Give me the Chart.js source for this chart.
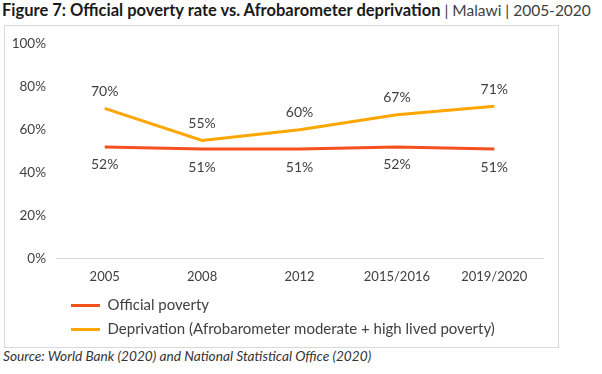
<!DOCTYPE html>
<html><head><meta charset="utf-8">
<script src="https://cdn.jsdelivr.net/npm/chart.js@4"></script>
<style>
html,body{margin:0;padding:0;background:#fff;width:602px;height:374px;overflow:hidden;font-family:Lato,sans-serif;}
#title{position:absolute;left:2px;top:0px;font-size:15.5px;color:#222;white-space:nowrap;}
#title b{font-weight:700;color:#1a1a1a;font-size:16.5px;}
#title span{color:#404040;}
#box{position:absolute;left:4px;top:25px;width:553px;height:321px;border:1px solid #d9d9d9;}
#src{position:absolute;left:3px;top:347px;font-size:13.7px;font-style:italic;color:#333;white-space:nowrap;}
</style></head><body>
<div id="title"><b>Figure 7: Official poverty rate vs. Afrobarometer deprivation</b> <span>| Malawi | 2005-2020</span></div>
<div id="box"><canvas id="c" width="553" height="321"></canvas></div>
<div id="src">Source: World Bank (2020) and National Statistical Office (2020)</div>
<script>
const categories = ['2005','2008','2012','2015/2016','2019/2020'];
const officialPoverty = [52,51,51,52,51];
const deprivation = [70,55,60,67,71];
const seriesNames = ['Official poverty','Deprivation (Afrobarometer moderate + high lived poverty)'];
const yTicks = [0,20,40,60,80,100];

const labelPlugin = {
  id:'labels',
  afterLayout(chart){
    if (chart.legend) { chart.legend.left += 6; chart.legend.right += 6; }
  },
  afterDatasetsDraw(chart){
    const ctx = chart.ctx;
    ctx.save();
    ctx.font = '14px Lato';
    ctx.fillStyle = '#404040';
    ctx.textAlign = 'center';
    ctx.textBaseline = 'middle';
    chart.data.datasets.forEach((ds,i)=>{
      const meta = chart.getDatasetMeta(i);
      meta.data.forEach((pt,j)=>{
        const off = i===0 ? 18 : -17;
        ctx.fillText(ds.data[j]+'%', pt.x, pt.y+off);
      });
    });
    ctx.restore();
  }
};

new Chart(document.getElementById('c'),{
  type:'line',
  data:{labels:categories,datasets:[
    {label:seriesNames[0],data:officialPoverty,borderColor:'#F4511E',backgroundColor:'#F4511E',borderWidth:3,pointRadius:0,tension:0},
    {label:seriesNames[1],data:deprivation,borderColor:'#FFA600',backgroundColor:'#FFA600',borderWidth:3,pointRadius:0,tension:0}
  ]},
  options:{
    responsive:false,animation:false,
    layout:{autoPadding:false,padding:{left:0,right:15,top:9,bottom:0}},
    plugins:{
      legend:{position:'bottom',align:'start',fullSize:false,
        labels:{usePointStyle:true,pointStyle:'line',pointStyleWidth:29,padding:9,color:'#404040',font:{family:'Lato',size:15}}},
      tooltip:{enabled:false}
    },
    scales:{
      x:{offset:true,afterFit(s){s.height-=7;},grid:{display:false,drawTicks:false},border:{display:true,color:'#d9d9d9',width:1},
        ticks:{color:'#404040',font:{family:'Lato',size:13},padding:11}},
      y:{min:0,max:100,afterFit(s){s.width=51;},
        grid:{display:false,drawTicks:false},border:{display:false},
        afterBuildTicks(s){s.ticks=yTicks.map(v=>({value:v}));},
        ticks:{color:'#404040',font:{family:'Lato',size:13.5},padding:10,callback:v=>v+'%'}}
    }
  },
  plugins:[labelPlugin]
});
</script>
</body></html>
